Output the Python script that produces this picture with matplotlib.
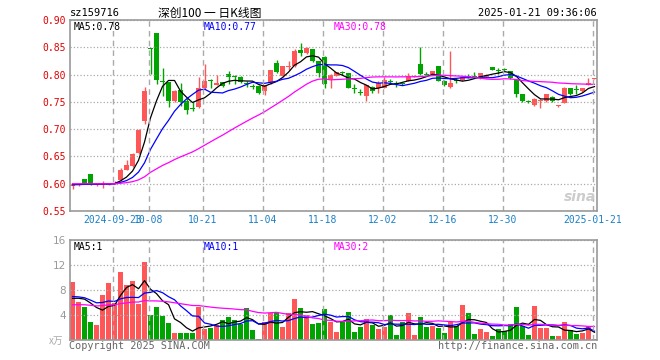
import matplotlib
matplotlib.use("Agg")
import matplotlib.pyplot as plt
import numpy as np
import pandas as pd

# daily candles 2024-09-10 .. 2025-01-21 (88 trading days)
opens = [0.597, 0.598, 0.608, 0.617, 0.598, 0.599, 0.599, 0.600, 0.606, 0.626,
         0.632, 0.657, 0.715, 0.848, 0.876, 0.788, 0.786, 0.752, 0.772, 0.752,
         0.739, 0.740, 0.775, 0.791, 0.781, 0.786, 0.801, 0.798, 0.796, 0.784,
         0.779, 0.779, 0.770, 0.784, 0.822, 0.797, 0.814, 0.815, 0.845, 0.840,
         0.846, 0.824, 0.833, 0.792, 0.798, 0.805, 0.802, 0.776, 0.769, 0.761,
         0.777, 0.775, 0.776, 0.789, 0.784, 0.785, 0.789, 0.796, 0.819, 0.802,
         0.801, 0.815, 0.789, 0.778, 0.791, 0.790, 0.798, 0.797, 0.793, 0.796,
         0.813, 0.808, 0.810, 0.806, 0.790, 0.764, 0.752, 0.744, 0.753, 0.751,
         0.759, 0.743, 0.748, 0.775, 0.774, 0.770, 0.781, 0.792]
highs = [0.600, 0.601, 0.608, 0.618, 0.601, 0.605, 0.602, 0.605, 0.629, 0.644,
         0.656, 0.701, 0.777, 0.848, 0.876, 0.812, 0.787, 0.772, 0.785, 0.757,
         0.749, 0.795, 0.820, 0.792, 0.800, 0.787, 0.807, 0.799, 0.797, 0.789,
         0.782, 0.780, 0.781, 0.809, 0.827, 0.816, 0.825, 0.846, 0.857, 0.850,
         0.847, 0.825, 0.834, 0.801, 0.805, 0.806, 0.803, 0.783, 0.774, 0.781,
         0.779, 0.789, 0.796, 0.791, 0.788, 0.787, 0.802, 0.799, 0.850, 0.804,
         0.807, 0.816, 0.790, 0.843, 0.794, 0.797, 0.801, 0.804, 0.803, 0.801,
         0.814, 0.812, 0.812, 0.807, 0.791, 0.765, 0.754, 0.757, 0.756, 0.765,
         0.760, 0.745, 0.777, 0.776, 0.781, 0.776, 0.793, 0.794]
lows = [0.590, 0.596, 0.599, 0.597, 0.596, 0.593, 0.597, 0.599, 0.605, 0.625,
        0.631, 0.655, 0.710, 0.801, 0.783, 0.761, 0.740, 0.750, 0.742, 0.728,
        0.733, 0.738, 0.773, 0.775, 0.780, 0.777, 0.783, 0.783, 0.785, 0.777,
        0.773, 0.765, 0.763, 0.782, 0.803, 0.796, 0.808, 0.814, 0.834, 0.838,
        0.823, 0.795, 0.775, 0.775, 0.797, 0.800, 0.775, 0.766, 0.763, 0.751,
        0.767, 0.767, 0.775, 0.782, 0.778, 0.780, 0.788, 0.795, 0.800, 0.799,
        0.800, 0.788, 0.779, 0.776, 0.785, 0.788, 0.793, 0.793, 0.792, 0.795,
        0.808, 0.801, 0.806, 0.792, 0.758, 0.749, 0.747, 0.743, 0.738, 0.750,
        0.749, 0.740, 0.747, 0.763, 0.765, 0.768, 0.780, 0.792]
closes = [0.598, 0.600, 0.600, 0.600, 0.599, 0.600, 0.600, 0.602, 0.625, 0.634,
          0.655, 0.698, 0.770, 0.847, 0.790, 0.787, 0.752, 0.770, 0.749, 0.735,
          0.738, 0.776, 0.789, 0.790, 0.785, 0.779, 0.796, 0.797, 0.786, 0.783,
          0.778, 0.766, 0.780, 0.808, 0.804, 0.815, 0.815, 0.844, 0.839, 0.849,
          0.825, 0.803, 0.783, 0.800, 0.804, 0.804, 0.776, 0.775, 0.768, 0.780,
          0.769, 0.784, 0.790, 0.788, 0.783, 0.784, 0.798, 0.797, 0.801, 0.801,
          0.806, 0.789, 0.781, 0.784, 0.790, 0.796, 0.797, 0.796, 0.802, 0.800,
          0.809, 0.807, 0.809, 0.793, 0.765, 0.751, 0.751, 0.756, 0.754, 0.764,
          0.751, 0.744, 0.776, 0.764, 0.773, 0.775, 0.785, 0.793]
# volume in 万
volumes = [9.3, 6.1, 5.3, 2.9, 2.4, 7.2, 9.1, 6.0, 10.9, 8.8,
           9.5, 5.8, 12.5, 4.0, 5.3, 3.8, 2.7, 1.1, 1.1, 1.1,
           1.1, 5.3, 1.8, 1.9, 2.4, 3.2, 3.7, 3.2, 2.6, 5.2,
           1.6, 0.2, 2.9, 4.4, 4.4, 2.1, 4.4, 6.6, 5.1, 4.0,
           2.6, 2.7, 5.0, 2.9, 1.3, 2.9, 4.5, 1.3, 2.1, 3.4,
           2.4, 1.8, 2.1, 4.0, 0.8, 2.9, 4.4, 0.8, 3.7, 2.1,
           2.3, 2.0, 1.1, 2.9, 2.3, 5.6, 4.4, 1.0, 1.7, 1.3,
           0.6, 1.8, 1.5, 2.6, 5.3, 2.3, 0.8, 5.4, 1.9, 1.9,
           0.6, 0.6, 2.9, 1.6, 1.0, 1.2, 2.2, 0.2]

# MA levels at the first candle (earlier days not shown)
price_ma_start = {5: 0.598, 10: 0.599, 30: 0.600}
vol_ma_start = {5: 6.0, 10: 6.7, 30: 5.5}

tick_idx = [7, 13, 22, 32, 42, 52, 62, 72, 87]
tick_labels = ['2024-09-23', '10-08', '10-21', '11-04', '11-18',
               '12-02', '12-16', '12-30', '2025-01-21']

RED = '#ff5757'
GREEN = '#00a400'
GRID = '#aaaaaa'
MONO = 'DejaVu Sans Mono'
CJK = ['Noto Sans CJK SC', 'DejaVu Sans']
FS = 7

o = np.array(opens); h = np.array(highs); l = np.array(lows); c = np.array(closes)
v = np.array(volumes)
n = len(c)
x = np.arange(n)
up = c >= o
cols = np.where(up, RED, GREEN)


def moving_avg(vals, k, start):
    padded = np.concatenate([np.full(k - 1, start), vals])
    return pd.Series(padded).rolling(k).mean().values[k - 1:]


ma = {k: moving_avg(c, k, price_ma_start[k]) for k in (5, 10, 30)}
vma = {k: moving_avg(v, k, vol_ma_start[k]) for k in (5, 10, 30)}
ma_cols = {5: 'black', 10: '#0000ff', 30: '#ff00ff'}

W, H = 660, 360
def fx(px): return px / W
def fy(py): return 1 - py / H

fig = plt.figure(figsize=(6.6, 3.6), dpi=100)
ax = fig.add_axes([fx(70), fy(211), 527 / W, 191 / H])
axv = fig.add_axes([fx(70), fy(340), 527 / W, 100 / H])

xlim = (-0.42, n - 1 + 0.42)

# price panel
ax.vlines(x, l, h, colors=cols, lw=1)
body = np.maximum(np.abs(c - o), 0.0018)
bottom = np.minimum(o, c) - np.where(np.abs(c - o) < 0.0018, 0.0009, 0)
ax.bar(x, body, bottom=bottom, width=0.82, color=cols, lw=0)
for k in (5, 10, 30):
    ax.plot(x, ma[k], color=ma_cols[k], lw=0.9)
ax.set_xlim(*xlim)
ax.set_ylim(0.55, 0.90)
yt = np.arange(0.55, 0.901, 0.05)
ax.set_yticks(yt)
ax.set_yticklabels(['%.2f' % t for t in yt], color='#e00000', fontsize=FS, family=MONO)
ax.yaxis.grid(True, ls=':', color=GRID, lw=0.9)
for t in tick_idx:
    ax.axvline(t - 0.33, color=GRID, ls=(0, (4, 3)), lw=1)
ax.set_xticks([t - 0.33 for t in tick_idx])
ax.set_xticklabels(tick_labels, color='#1a80c8', fontsize=FS, family=MONO)
ax.tick_params(length=0, pad=3)

# volume panel
axv.bar(x, v, width=0.82, color=cols, lw=0)
for k in (5, 10, 30):
    axv.plot(x, vma[k], color=ma_cols[k], lw=0.9)
axv.set_xlim(*xlim)
axv.set_ylim(0, 16)
axv.set_yticks([4, 8, 12, 16])
axv.set_yticklabels(['4', '8', '12', '16'], color='#999999', fontsize=7.5)
axv.yaxis.grid(True, ls=':', color=GRID, lw=0.9)
for t in tick_idx:
    axv.axvline(t - 0.33, color=GRID, ls=(0, (4, 3)), lw=1)
axv.set_xticks([])
axv.tick_params(length=0, pad=3)

for a in (ax, axv):
    for s in a.spines.values():
        s.set_color('#999999')
        s.set_linewidth(1.2)

# legends
fig.text(fx(74), fy(27), 'MA5:%.2f' % ma[5][-1], color='black', fontsize=FS, family=MONO, va='center')
fig.text(fx(204), fy(27), 'MA10:%.2f' % ma[10][-1], color='#0000ff', fontsize=FS, family=MONO, va='center')
fig.text(fx(334), fy(27), 'MA30:%.2f' % ma[30][-1], color='#ff00ff', fontsize=FS, family=MONO, va='center')
fig.text(fx(74), fy(247), 'MA5:%.0f' % vma[5][-1], color='black', fontsize=FS, family=MONO, va='center')
fig.text(fx(204), fy(247), 'MA10:%.0f' % vma[10][-1], color='#0000ff', fontsize=FS, family=MONO, va='center')
fig.text(fx(334), fy(247), 'MA30:%.0f' % vma[30][-1], color='#ff00ff', fontsize=FS, family=MONO, va='center')

# header
fig.text(fx(70), fy(13), 'sz159716', fontsize=FS + 0.5, family=MONO, va='center')
fig.text(fx(210), fy(13), '深创100 一 日K线图', fontsize=8.5, family=CJK, ha='center', va='center')
fig.text(fx(597), fy(13), '2025-01-21 09:36:06', fontsize=FS + 0.5, family=MONO, ha='right', va='center')

# footer
fig.text(fx(69), fy(346), 'Copyright 2025 SINA.COM', fontsize=FS + 0.3, family=MONO,
         color='#666666', va='center')
fig.text(fx(597), fy(346), 'http://finance.sina.com.cn', fontsize=FS + 0.3, family=MONO,
         color='#666666', ha='right', va='center')
fig.text(fx(56), fy(341), 'x万', fontsize=7, family=CJK, color='#aaaaaa',
         ha='center', va='center', style='italic')

# watermark
fig.text(fx(580), fy(197), 'sina', fontsize=10, color='#cccccc', weight='bold',
         style='italic', ha='center', va='center')

fig.savefig('out.png', dpi=100)
